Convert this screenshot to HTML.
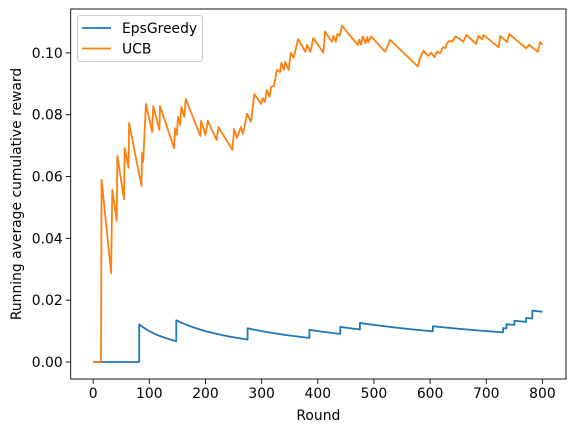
<!DOCTYPE html>
<html><head><meta charset="utf-8"><style>
body{margin:0;background:#fff}
svg{display:block;font-family:"DejaVu Sans","Liberation Sans",sans-serif}
</style></head><body>
<svg id="chart" width="576" height="432" viewBox="0 0 576 432" xmlns="http://www.w3.org/2000/svg">
<rect width="576" height="432" fill="#fff"/>
<g id="plot"></g>
<g id="axes"></g>
</svg>
<script>
const xTicks=[0,100,200,300,400,500,600,700,800];
const yTicks=[0,0.02,0.04,0.06,0.08,0.10];
const yTickLabels=["0.00","0.02","0.04","0.06","0.08","0.10"];
const totalRounds=800;
const epsRewardRounds=[82,148,275,385,440,475,605,730,736,750,771,782,782];
const ucbX=[0,14,15,32,34,42,43,55,56,63,64,86,87,89,94,105,107,118,119,144,146,149,151,155,157,162,165,191,192,200,204,220,223,248,251,256,263,267,274,281,287,299,302,306,309,314,317,322,324,327,333,335,340,342,348,352,357,365,378,381,387,392,410,413,425,428,432,435,439,443,471,474,477,480,485,488,490,495,520,529,578,581,588,597,602,608,612,618,623,627,630,635,639,645,651,659,665,682,686,693,695,722,725,737,741,771,776,792,796,800];
const ucbY=[0,0,0.0589,0.0288,0.0557,0.0457,0.0667,0.0527,0.0693,0.0628,0.0773,0.0570,0.0676,0.0647,0.0835,0.0744,0.0828,0.0751,0.0828,0.0692,0.0757,0.0735,0.0793,0.0767,0.0825,0.0793,0.0851,0.0731,0.0780,0.0735,0.0780,0.0718,0.0760,0.0686,0.0754,0.0725,0.0760,0.0738,0.0803,0.0777,0.0867,0.0835,0.0854,0.0841,0.0880,0.0858,0.0890,0.0893,0.0913,0.0945,0.0938,0.0968,0.0945,0.0971,0.0945,0.1000,0.0984,0.1045,0.1003,0.1026,0.1003,0.1048,0.1001,0.1069,0.1036,0.1055,0.1036,0.1061,0.1055,0.1088,0.1026,0.1042,0.1026,0.1053,0.1031,0.1051,0.1035,0.1053,0.1004,0.1042,0.0956,0.0977,0.1007,0.0990,0.1001,0.0986,0.1004,0.0999,0.1018,0.1015,0.1031,0.1040,0.1036,0.1053,0.1048,0.1036,0.1058,0.1029,0.1055,0.1044,0.1058,0.1018,0.1055,0.1035,0.1061,0.1015,0.1026,0.1004,0.1035,0.1026];

const L=70.7,R=566,T=9,B=379;
const xMin=-40,xMax=842,yMin=-0.0055,yMax=0.1142;
const sx=v=>L+(v-xMin)/(xMax-xMin)*(R-L);
const sy=v=>B-(v-yMin)/(yMax-yMin)*(B-T);
const NS="http://www.w3.org/2000/svg";
function mk(tag,attrs,parent){const e=document.createElementNS(NS,tag);for(const k in attrs)e.setAttribute(k,attrs[k]);parent.appendChild(e);return e;}
const plot=document.getElementById('plot'),axes=document.getElementById('axes');

let pts=[],cnt=0,idx=0;
const sorted=epsRewardRounds.slice().sort((a,b)=>a-b);
for(let t=0;t<=totalRounds;t++){
  let prev=cnt;
  while(idx<sorted.length&&sorted[idx]===t){cnt++;idx++;}
  const tt=Math.max(t,1);
  if(cnt!==prev)pts.push([sx(t),sy(prev/tt)]);
  pts.push([sx(t),sy(cnt/tt)]);
}
const eps=mk('polyline',{points:pts.map(p=>p[0].toFixed(2)+','+p[1].toFixed(2)).join(' '),fill:'none',stroke:'#1f77b4','stroke-width':1.8,'stroke-linejoin':'round'},plot);



const ucb=mk('polyline',{points:ucbX.map((x,i)=>sx(x).toFixed(2)+','+sy(ucbY[i]).toFixed(2)).join(' '),fill:'none',stroke:'#ff7f0e','stroke-width':1.8,'stroke-linejoin':'round'},plot);



const fr=mk('rect',{x:L,y:T,width:R-L,height:B-T,fill:'none',stroke:'#000','stroke-width':0.9},axes);



xTicks.forEach(v=>{
  const x=sx(v);
  const tk=mk('line',{x1:x,x2:x,y1:B,y2:B+4.9,stroke:'#000','stroke-width':0.9},axes);
  
  
  const tx=mk('text',{x:x,y:B+19,'text-anchor':'middle','font-size':13.9,fill:'#000'},axes);
  tx.textContent=String(v);
  
  
});
yTicks.forEach((v,i)=>{
  const y=sy(v);
  const tk=mk('line',{x1:L-4.9,x2:L,y1:y,y2:y,stroke:'#000','stroke-width':0.9},axes);
  
  
  const tx=mk('text',{x:L-8,y:y+5,'text-anchor':'end','font-size':13.9,fill:'#000'},axes);
  tx.textContent=yTickLabels[i];
  
  
});
const xl=mk('text',{x:(L+R)/2,y:420,'text-anchor':'middle','font-size':13.9},axes);
xl.textContent='Round';


const yl=mk('text',{x:0,y:0,'text-anchor':'middle','font-size':13.9,transform:`translate(21,${(T+B)/2}) rotate(-90)`},axes);
yl.textContent='Running average cumulative reward';



const lg=mk('g',{},axes);


mk('rect',{x:77.5,y:15.5,width:125,height:46,rx:3,fill:'#fff','fill-opacity':0.8,stroke:'#ccc','stroke-width':1},lg);
[['EpsGreedy','#1f77b4',28],['UCB','#ff7f0e',48.5]].forEach(([n,c,y])=>{
  const e=mk('g',{},lg);
  
  
  mk('line',{x1:82,x2:111,y1:y,y2:y,stroke:c,'stroke-width':1.8},e);
  const t=mk('text',{x:122,y:y+5,'font-size':13.9},e);
  t.textContent=n;
});
</script>
</body></html>
